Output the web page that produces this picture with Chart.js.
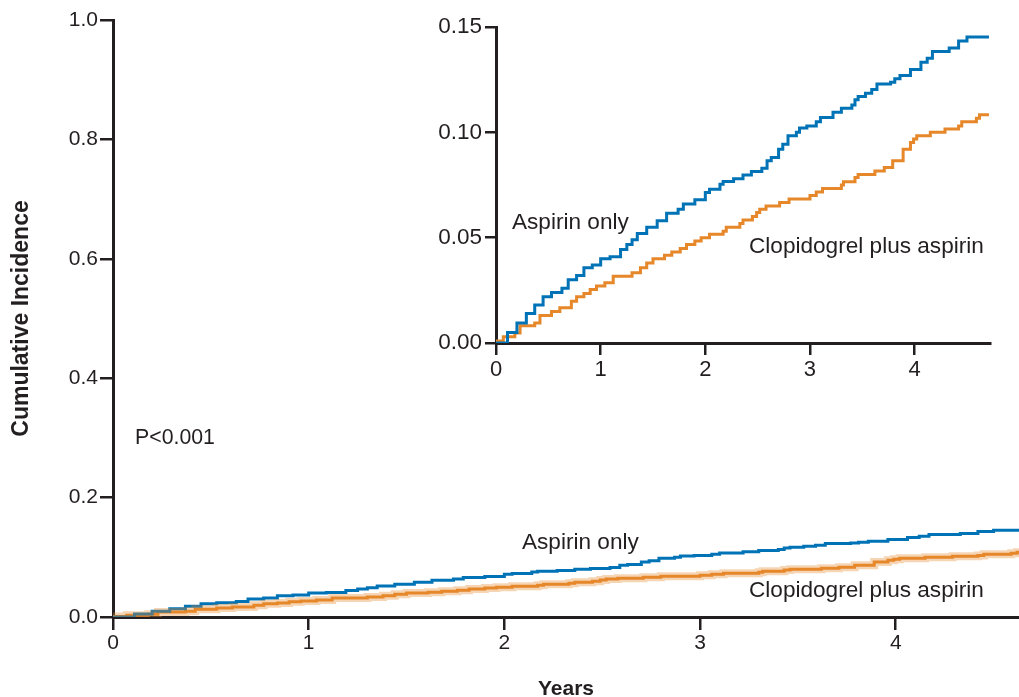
<!DOCTYPE html>
<html>
<head>
<meta charset="utf-8">
<script src="https://cdn.jsdelivr.net/npm/chart.js@4.4.1/dist/chart.umd.min.js"></script>
<style>
  html, body { margin: 0; padding: 0; background: #fff; }
  #wrap { position: relative; width: 1019px; height: 697px; overflow: hidden; font-family: "Liberation Sans", Arial, sans-serif; color: #231f20; }
  #mainChart { position: absolute; left: 0; top: 0; }
  #insetChart { position: absolute; left: 400px; top: 0; }
  .lbl { position: absolute; font-size: 22.6px; line-height: 22px; white-space: nowrap; }
</style>
</head>
<body>
<div id="wrap">
  <canvas id="mainChart" width="1019" height="697"></canvas>
  <canvas id="insetChart" width="619" height="400"></canvas>
  <div class="lbl" style="left:135px; top:426px; font-size:21.3px;">P&lt;0.001</div>
  <div class="lbl" style="left:522px; top:531px;">Aspirin only</div>
  <div class="lbl" style="left:749px; top:579px;">Clopidogrel plus aspirin</div>
  <div class="lbl" style="left:512px; top:211px;">Aspirin only</div>
  <div class="lbl" style="left:749px; top:235px;">Clopidogrel plus aspirin</div>
</div>
<script>
// step times (years) and cumulative incidence
const aspirinYears = [0, 0.11, 0.2, 0.29, 0.37, 0.45, 0.53, 0.63, 0.69, 0.77, 0.84, 0.92, 1.0, 1.09, 1.19,
    1.25, 1.30, 1.35, 1.44, 1.54, 1.63, 1.74, 1.79, 1.90, 2.0, 2.04, 2.14, 2.17, 2.27, 2.36,
    2.44, 2.54, 2.59, 2.63, 2.70, 2.74, 2.79, 2.87, 2.90, 2.97, 3.06, 3.10, 3.22, 3.30, 3.40,
    3.43, 3.46, 3.53, 3.59, 3.64, 3.77, 3.81, 3.86, 3.96, 4.06, 4.12, 4.17, 4.33, 4.42, 4.50, 4.71];
const aspirinValues = [0, 0.005, 0.0095, 0.014, 0.018, 0.022, 0.024, 0.026, 0.030, 0.032, 0.0357, 0.037, 0.040, 0.041, 0.0444,
    0.0468, 0.049, 0.052, 0.055, 0.058, 0.0616, 0.0635, 0.066, 0.068, 0.0714, 0.073, 0.0754, 0.0767, 0.078, 0.0798,
    0.0814, 0.083, 0.0865, 0.088, 0.092, 0.0944, 0.0984, 0.100, 0.102, 0.103, 0.105, 0.107, 0.1095, 0.1114, 0.113,
    0.1155, 0.117, 0.1186, 0.1203, 0.123, 0.1238, 0.1254, 0.127, 0.1298, 0.1333, 0.1352, 0.1384, 0.140, 0.1433, 0.1452, 0.1452];

const clopiYears = [0, 0.07, 0.18, 0.23, 0.37, 0.42, 0.53, 0.61, 0.72, 0.77, 0.84, 0.90, 0.96, 1.04, 1.12,
    1.30, 1.38, 1.44, 1.50, 1.61, 1.68, 1.76, 1.82, 1.90, 1.96, 2.04, 2.17, 2.20, 2.33, 2.36,
    2.45, 2.49, 2.52, 2.58, 2.71, 2.80, 3.00, 3.06, 3.12, 3.30, 3.32, 3.43, 3.46, 3.62, 3.71,
    3.79, 3.89, 3.96, 3.99, 4.02, 4.15, 4.29, 4.42, 4.45, 4.59, 4.62, 4.71];
const clopiValues = [0.001, 0.003, 0.0048, 0.0082, 0.0095, 0.013, 0.015, 0.0167, 0.0198, 0.022, 0.0235, 0.0254, 0.027, 0.0286, 0.0317,
    0.0333, 0.0357, 0.038, 0.040, 0.0416, 0.0432, 0.0448, 0.0467, 0.0484, 0.050, 0.0516, 0.053, 0.055, 0.0567, 0.0584,
    0.060, 0.062, 0.0635, 0.065, 0.0667, 0.0683, 0.070, 0.0717, 0.0733, 0.075, 0.0765, 0.0786, 0.080, 0.0817, 0.0833,
    0.0865, 0.092, 0.0952, 0.0968, 0.0984, 0.100, 0.1016, 0.103, 0.105, 0.1067, 0.1084, 0.1084];

const xTicks = [0, 1, 2, 3, 4];
const mainYTicks = [0, 0.2, 0.4, 0.6, 0.8, 1.0];
const insetYTicks = [0, 0.05, 0.10, 0.15];

const BLUE = '#0073b6';
const ORANGE = '#e6872a';
const INK = '#231f20';
const FONT = '"Liberation Sans", Arial, sans-serif';

function toPoints(xs, ys) {
    return xs.map((x, i) => ({ x: x, y: ys[i] }));
}

function stepLine(data, color, width) {
    return {
        data: data,
        borderColor: color,
        borderWidth: width,
        stepped: 'before',
        pointRadius: 0,
        fill: false
    };
}

function axisStyle(tickLen) {
    return {
        grid: { drawOnChartArea: false, drawTicks: true, tickLength: tickLen, color: INK, lineWidth: 2.5 },
        border: { display: true, color: INK, width: 3 }
    };
}

// main chart
new Chart(document.getElementById('mainChart'), {
    type: 'line',
    data: {
        datasets: [
            stepLine(toPoints(clopiYears, clopiValues), 'rgba(230,135,42,0.35)', 8),
            stepLine(toPoints(aspirinYears, aspirinValues), BLUE, 3),
            stepLine(toPoints(clopiYears, clopiValues), ORANGE, 3)
        ]
    },
    options: {
        responsive: false,
        animation: false,
        layout: { padding: { top: 20, right: 0, left: 0, bottom: 0 } },
        plugins: { legend: { display: false }, tooltip: { enabled: false } },
        scales: {
            x: {
                type: 'linear', min: 0, max: 4.63,
                ...axisStyle(13),
                afterBuildTicks: s => { s.ticks = xTicks.map(v => ({ value: v })); },
                afterFit: s => { s.height = 80; },
                ticks: { color: INK, padding: 1, font: { family: FONT, size: 21 }, callback: v => String(v) },
                title: { display: true, text: 'Years', color: INK, font: { family: FONT, size: 21, weight: 'bold', lineHeight: 0.7 }, padding: 0 }
            },
            y: {
                type: 'linear', min: 0, max: 1,
                ...axisStyle(13),
                afterBuildTicks: s => { s.ticks = mainYTicks.map(v => ({ value: v })); },
                afterFit: s => { s.width = 113; },
                ticks: { color: INK, padding: 2, font: { family: FONT, size: 21 }, callback: v => v.toFixed(1) },
                title: { display: true, text: 'Cumulative Incidence', color: INK, font: { family: FONT, size: 23, weight: 'bold' }, padding: { top: 8, bottom: 0 } }
            }
        }
    }
});

// inset chart, zoomed on 0-0.15
new Chart(document.getElementById('insetChart'), {
    type: 'line',
    data: {
        datasets: [
            stepLine(toPoints(aspirinYears, aspirinValues), BLUE, 3),
            stepLine(toPoints(clopiYears, clopiValues), ORANGE, 3)
        ]
    },
    options: {
        responsive: false,
        animation: false,
        layout: { padding: { top: 27, right: 29, left: 0, bottom: 0 } },
        plugins: { legend: { display: false }, tooltip: { enabled: false } },
        scales: {
            x: {
                type: 'linear', min: 0, max: 4.72,
                ...axisStyle(12),
                afterBuildTicks: s => { s.ticks = xTicks.map(v => ({ value: v })); },
                afterFit: s => { s.height = 57; },
                ticks: { color: INK, padding: 2, font: { family: FONT, size: 22 }, callback: v => String(v) }
            },
            y: {
                type: 'linear', min: 0, max: 0.15,
                ...axisStyle(11),
                afterBuildTicks: s => { s.ticks = insetYTicks.map(v => ({ value: v })); },
                afterFit: s => { s.width = 96; },
                ticks: { color: INK, padding: 3, font: { family: FONT, size: 22.5 }, callback: v => v.toFixed(2) }
            }
        }
    }
});
</script>
</body>
</html>
